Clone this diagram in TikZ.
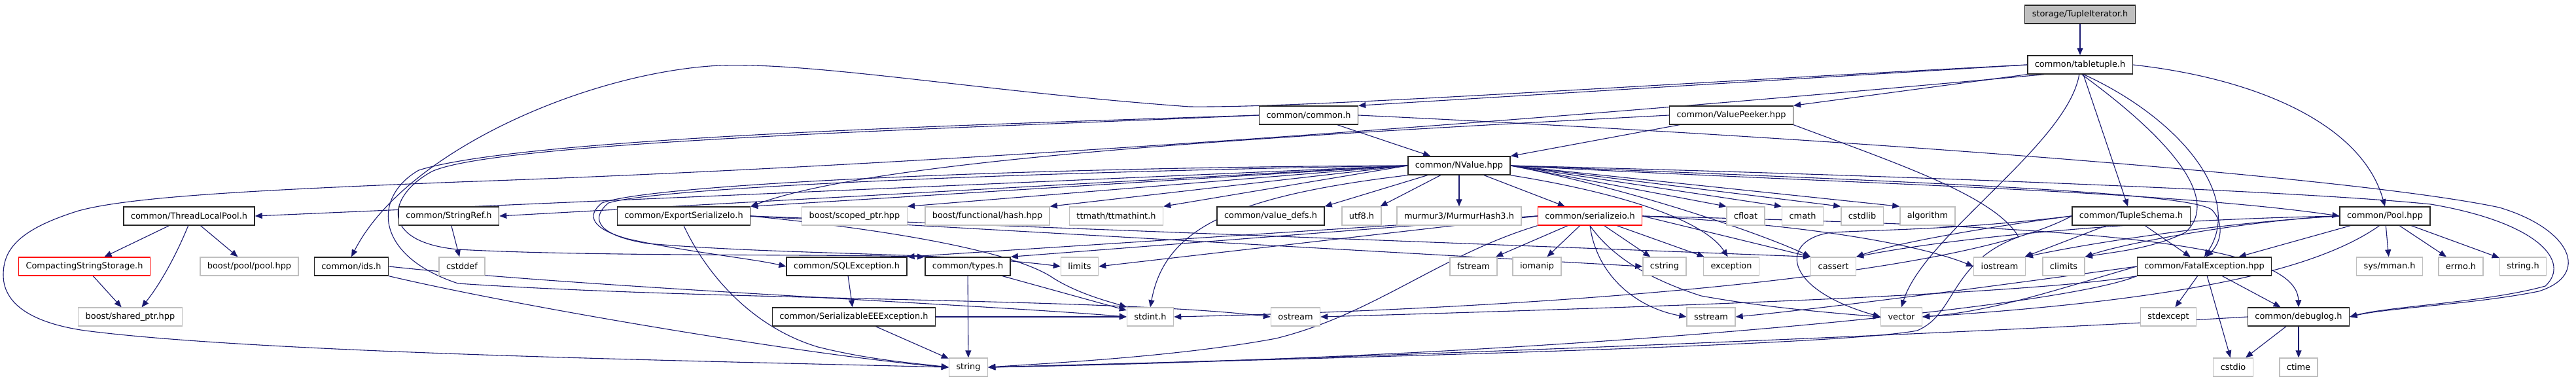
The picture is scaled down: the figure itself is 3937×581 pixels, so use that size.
\documentclass[tikz,border=0pt]{standalone}
\usepackage{fontspec}
\setmainfont{DejaVu Sans}
\usetikzlibrary{arrows.meta,backgrounds}
\definecolor{edgeblue}{HTML}{191970}
\definecolor{sysgray}{HTML}{BFBFBF}
\tikzset{
  file/.style={draw=black!85, line width=1.4pt, fill=white, minimum height=28pt,
    inner xsep=11pt, inner ysep=0pt, font=\fontsize{12.9}{14}\selectfont},
  sysfile/.style={file, draw=sysgray},
  trunc/.style={file, draw=red},
  root/.style={file, fill=sysgray},
  dep/.style={->, draw=edgeblue, line width=1.1pt}
}
\begin{document}
\begin{tikzpicture}[>={Triangle[length=11pt,width=9pt]}, x=1pt, y=-1pt]
  \useasboundingbox (0,0) rectangle (3937,581);
  % rows 0 to 3
  \node[root] (iter) at (3179,22) {storage/TupleIterator.h};
  \node[file] (tuple) at (3179,99) {common/tabletuple.h};
  \node[file] (common) at (2000,176) {common/common.h};
  \node[file] (peeker) at (2646,176) {common/ValuePeeker.hpp};
  \node[file] (nvalue) at (2230,253) {common/NValue.hpp};
  % row 4
  \node[file] (tlpool) at (289,330) {common/ThreadLocalPool.h};
  \node[file] (strref) at (686,330) {common/StringRef.h};
  \node[file] (expio) at (1045,330) {common/ExportSerializeIo.h};
  \node[sysfile] (scoped) at (1306,330) {boost/scoped\_ptr.hpp};
  \node[sysfile] (fhash) at (1509,330) {boost/functional/hash.hpp};
  \node[sysfile] (ttmath) at (1706,330) {ttmath/ttmathint.h};
  \node[file] (vdefs) at (1942,330) {common/value\_defs.h};
  \node[sysfile] (utf) at (2081,330) {utf8.h};
  \node[sysfile] (murmur) at (2230,330) {murmur3/MurmurHash3.h};
  \node[trunc] (serio) at (2430,330) {common/serializeio.h};
  \node[sysfile] (cfloat) at (2668,330) {cfloat};
  \node[sysfile] (cmath) at (2755,330) {cmath};
  \node[sysfile] (cstdlib) at (2846,330) {cstdlib};
  \node[sysfile] (algo) at (2946,330) {algorithm};
  \node[file] (schema) at (3257,330) {common/TupleSchema.h};
  \node[file] (pool) at (3645,330) {common/Pool.hpp};
  % row 5
  \node[trunc] (css) at (129,407) {CompactingStringStorage.h};
  \node[sysfile] (bpool) at (381,407) {boost/pool/pool.hpp};
  \node[file] (ids) at (537,407) {common/ids.h};
  \node[sysfile] (cstddef) at (706,407) {cstddef};
  \node[file] (sqlex) at (1294,407) {common/SQLException.h};
  \node[file] (types) at (1479,407) {common/types.h};
  \node[sysfile] (limits) at (1650,407) {limits};
  \node[sysfile] (fstream) at (2252,407) {fstream};
  \node[sysfile] (iomanip) at (2349,407) {iomanip};
  \node[sysfile] (cstring) at (2544,407) {cstring};
  \node[sysfile] (exception) at (2646,407) {exception};
  \node[sysfile] (cassert) at (2802,407) {cassert};
  \node[sysfile] (iostream) at (3056,407) {iostream};
  \node[sysfile] (climits) at (3154,407) {climits};
  \node[file] (fatal) at (3369,407) {common/FatalException.hpp};
  \node[sysfile] (mman) at (3652,407) {sys/mman.h};
  \node[sysfile] (errno) at (3761,407) {errno.h};
  \node[sysfile] (strh) at (3856,407) {string.h};
  % rows 6 and 7
  \node[sysfile] (sharedptr) at (199,484) {boost/shared\_ptr.hpp};
  \node[file] (seree) at (1305,484) {common/SerializableEEException.h};
  \node[sysfile] (stdint) at (1758,484) {stdint.h};
  \node[sysfile] (ostream) at (1980,484) {ostream};
  \node[sysfile] (sstream) at (2615,484) {sstream};
  \node[sysfile] (vector) at (2906,484) {vector};
  \node[sysfile] (stdexcept) at (3314,484) {stdexcept};
  \node[file] (debuglog) at (3513,484) {common/debuglog.h};
  \node[sysfile] (string) at (1480,561) {string};
  \node[sysfile] (cstdio) at (3413,561) {cstdio};
  \node[sysfile] (ctime) at (3513,561) {ctime};

  \begin{pgfonlayer}{background}
  \fill[white] (0,0) rectangle (3937,581);
  % tabletuple
  \draw[dep] (iter) -- (tuple);
  \draw[dep] (tuple.west) -- (common.north east);
  \draw[dep] (tuple.south west) -- (peeker.north east);
  \draw[dep] (tuple.west) .. controls (2500,130) and (2000,165) .. (1818,163)
    .. controls (1500,140) and (1250,95) .. (1100,100) .. controls (900,110) and (620,230) .. (ids.north);
  \draw[dep] (tuple.195) .. controls (2400,180) and (1500,250) .. (700,278)
    .. controls (400,290) and (200,300) .. (120,322) .. controls (30,350) and (5,380) .. (5,420)
    .. controls (5,470) and (60,495) .. (130,505) .. controls (400,540) and (1100,552) .. (string.west);
  \draw[dep] (tuple) -- (schema);
  \draw[dep] (tuple.east) .. controls (3450,120) and (3610,190) .. (pool.north);
  \draw[dep] (tuple.-70) .. controls (3330,180) and (3430,300) .. (fatal.north);
  \draw[dep] (tuple.-80) .. controls (3300,200) and (3400,300) .. (3340,355)
    .. controls (3290,380) and (3230,385) .. (climits.north east);
  \draw[dep] (tuple.-95) .. controls (3160,220) and (2940,360) .. (vector.north);
  % common.h and ValuePeeker.hpp
  \draw[dep] (common) -- (nvalue);
  \draw[dep] (common.east) .. controls (2800,210) and (3600,270) .. (3820,317)
    .. controls (3930,350) and (3960,420) .. (3880,445) .. controls (3780,465) and (3650,470) .. (debuglog.east);
  \draw[dep] (common.west) .. controls (1500,190) and (800,210) .. (640,260)
    .. controls (570,300) and (570,390) .. (700,433) .. controls (1100,460) and (1700,455) .. (ostream.west);
  \draw[dep] (common.west) .. controls (1500,195) and (760,215) .. (660,262)
    .. controls (590,300) and (580,370) .. (700,381) .. controls (900,392) and (1250,388) .. (types.north west);
  \draw[dep] (peeker) -- (nvalue);
  \draw[dep] (peeker.west) .. controls (2000,205) and (1350,240) .. (expio.north east);
  \draw[dep] (peeker.south east) .. controls (2900,250) and (3050,300) .. (3085,362)
    .. controls (2980,400) and (2990,480) .. (2930,505) .. controls (2800,530) and (1900,550) .. (string.east);
  % NValue.hpp
  \draw[dep] (nvalue.west) -- (tlpool.east);
  \draw[dep] (nvalue.west) -- (strref.east);
  \draw[dep] (nvalue.west) -- (expio.north east);
  \draw[dep] (nvalue.west) -- (scoped.north east);
  \draw[dep] (nvalue.west) -- (fhash.north east);
  \draw[dep] (nvalue.west) -- (ttmath.north east);
  \draw[dep] (nvalue) -- (vdefs.north east);
  \draw[dep] (nvalue) -- (utf);
  \draw[dep] (nvalue) -- (murmur);
  \draw[dep] (nvalue) -- (serio);
  \draw[dep] (nvalue.west) .. controls (1600,255) and (1000,280) .. (920,310)
    .. controls (895,330) and (905,350) .. (960,365) .. controls (1050,385) and (1150,395) .. (sqlex.west);
  \draw[dep] (nvalue.west) .. controls (1600,262) and (1010,285) .. (930,310)
    .. controls (900,335) and (915,360) .. (990,372) .. controls (1200,390) and (1450,385) .. (limits.west);
  \draw[dep] (nvalue.south west) .. controls (1880,300) and (1780,350) .. (stdint.north);
  \draw[dep] (nvalue.east) -- (cfloat.north west);
  \draw[dep] (nvalue.east) -- (cmath.north west);
  \draw[dep] (nvalue.east) -- (cstdlib.north west);
  \draw[dep] (nvalue.east) -- (algo.north west);
  \draw[dep] (nvalue.south east) .. controls (2450,290) and (2600,330) .. (exception.110);
  \draw[dep] (nvalue.east) .. controls (2500,290) and (2700,360) .. (cassert.north west);
  \draw[dep] (nvalue.east) .. controls (2800,280) and (3300,290) .. (pool.west);
  \draw[dep] (nvalue.east) .. controls (3000,280) and (3340,295) .. (3380,320)
    .. controls (3400,340) and (3395,370) .. (fatal.80);
  \draw[dep] (nvalue.east) .. controls (2800,265) and (3500,290) .. (3715,312)
    .. controls (3880,340) and (3930,400) .. (3890,437) .. controls (3800,462) and (3650,468) .. (debuglog.east);
  % serializeio.h
  \draw[dep] (serio) -- (fstream);
  \draw[dep] (serio) -- (iomanip);
  \draw[dep] (serio) -- (cstring);
  \draw[dep] (serio) -- (exception);
  \draw[dep] (serio.south) .. controls (2440,420) and (2500,470) .. (sstream.west);
  \draw[dep] (serio.south) .. controls (2455,380) and (2500,420) .. (2600,452)
    .. controls (2700,470) and (2800,478) .. (vector.west);
  \draw[dep] (serio.south west) .. controls (2200,390) and (2100,480) .. (1950,517)
    .. controls (1800,545) and (1600,555) .. (string.east);
  \draw[dep] (serio.west) -- (sqlex.north east);
  \draw[dep] (serio.west) -- (types.north east);
  \draw[dep] (serio.west) -- (limits.east);
  \draw[dep] (serio.east) -- (cassert.north west);
  \draw[dep] (serio.east) .. controls (2800,345) and (2950,380) .. (iostream.west);
  \draw[dep] (serio.east) .. controls (3100,345) and (3510,360) .. (debuglog.north);
  % ExportSerializeIo.h and the left part
  \draw[dep] (expio.south) .. controls (1080,420) and (1150,500) .. (1250,530)
    .. controls (1330,550) and (1400,555) .. (string.west);
  \draw[dep] (expio.east) -- (cstring.west);
  \draw[dep] (expio.east) -- (cassert.north west);
  \draw[dep] (expio.east) .. controls (1400,355) and (1560,390) .. (1610,425)
    .. controls (1650,450) and (1700,462) .. (stdint.north west);
  \draw[dep] (tlpool) -- (css);
  \draw[dep] (tlpool.-95) .. controls (265,400) and (240,440) .. (sharedptr.40);
  \draw[dep] (tlpool) -- (bpool);
  \draw[dep] (css) -- (sharedptr);
  \draw[dep] (strref) -- (cstddef);
  \draw[dep] (ids.east) .. controls (900,440) and (1500,465) .. (stdint.west);
  \draw[dep] (ids.south east) .. controls (800,470) and (1250,545) .. (string.west);
  \draw[dep] (sqlex) -- (seree);
  \draw[dep] (seree) -- (string);
  \draw[dep] (seree.east) -- (stdint.west);
  \draw[dep] (types) -- (string);
  \draw[dep] (types) -- (stdint);
  % TupleSchema.h, Pool.hpp, FatalException.hpp, debuglog.h
  \draw[dep] (schema) -- (fatal);
  \draw[dep] (schema) -- (iostream);
  \draw[dep] (schema.west) .. controls (3050,345) and (2900,370) .. (cassert.north east);
  \draw[dep] (schema.west) .. controls (3000,420) and (2400,470) .. (stdint.east);
  \draw[dep] (schema.west) .. controls (3000,350) and (2900,350) .. (2800,355)
    .. controls (2720,365) and (2720,440) .. (vector.west);
  \draw[dep] (pool) -- (mman);
  \draw[dep] (pool) -- (errno);
  \draw[dep] (pool) -- (strh);
  \draw[dep] (pool) -- (fatal);
  \draw[dep] (pool.west) .. controls (3450,335) and (3250,370) .. (climits.north east);
  \draw[dep] (pool.west) .. controls (3400,340) and (3200,370) .. (iostream.north east);
  \draw[dep] (pool.west) .. controls (3300,335) and (3000,360) .. (cassert.north east);
  \draw[dep] (pool.-120) .. controls (3530,420) and (3300,460) .. (vector.east);
  \draw[dep] (fatal) -- (stdexcept);
  \draw[dep] (fatal) -- (cstdio);
  \draw[dep] (fatal) -- (debuglog);
  \draw[dep] (fatal.west) .. controls (3100,430) and (2800,470) .. (sstream.east);
  \draw[dep] (fatal.west) .. controls (3150,440) and (3050,475) .. (vector.east);
  \draw[dep] (fatal.south west) .. controls (3100,450) and (2500,470) .. (ostream.east);
  \draw[dep] (fatal.south west) .. controls (3150,470) and (2400,545) .. (string.east);
  \draw[dep] (debuglog) -- (cstdio);
  \draw[dep] (debuglog) -- (ctime);
  \draw[dep] (debuglog.west) .. controls (3000,510) and (2000,550) .. (string.east);
  \end{pgfonlayer}
\end{tikzpicture}
\end{document}
